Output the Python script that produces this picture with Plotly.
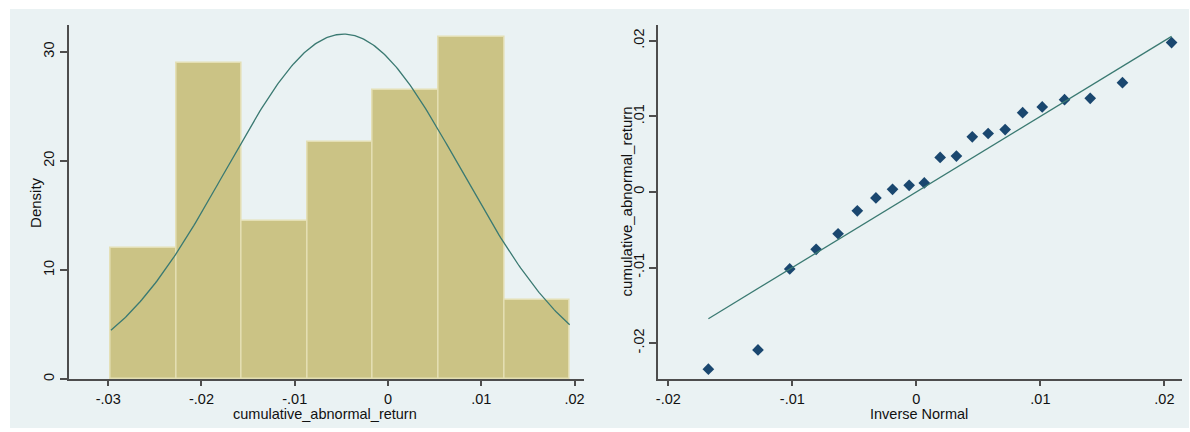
import numpy as np
import plotly.graph_objects as go

# ---------------- data ----------------
# Histogram (density) of cumulative_abnormal_return
bin_start = -0.02971
bin_width = 0.007027
bin_counts = [5, 12, 6, 9, 11, 13, 3]          # observations per bin
n_obs = sum(bin_counts)

# Fitted normal curve parameters
norm_mean = -0.00477
norm_sd = 0.01262

# Q-Q plot: inverse normal (x) vs sorted cumulative_abnormal_return (y)
qq_inv_normal = [-0.01677, -0.01277, -0.01021, -0.00808, -0.00631, -0.00476,
                 -0.00326, -0.00192, -0.00058, 0.00064, 0.00192, 0.00323,
                 0.00451, 0.00579, 0.00716, 0.00857, 0.01015, 0.01195,
                 0.01402, 0.01662, 0.02058]
qq_car = [-0.02345, -0.0209, -0.01019, -0.0076, -0.00553, -0.0025,
          -0.00079, 0.00035, 0.00088, 0.00119, 0.00457, 0.00474,
          0.00729, 0.00773, 0.00825, 0.01049, 0.01124, 0.01221,
          0.01238, 0.01445, 0.01976]

left_xticks = [-0.03, -0.02, -0.01, 0, 0.01, 0.02]
left_xlabels = ["-.03", "-.02", "-.01", "0", ".01", ".02"]
left_yticks = [0, 10, 20, 30]
left_ylabels = ["0", "10", "20", "30"]
right_ticks = [-0.02, -0.01, 0, 0.01, 0.02]
right_labels = ["-.02", "-.01", "0", ".01", ".02"]

# ---------------- derived ----------------
bin_edges = [bin_start + i * bin_width for i in range(len(bin_counts) + 1)]
bin_centers = [(bin_edges[i] + bin_edges[i + 1]) / 2 for i in range(len(bin_counts))]
densities = [c / (n_obs * bin_width) for c in bin_counts]

curve_x = np.linspace(bin_edges[0], bin_edges[-1], 300)
curve_y = np.exp(-0.5 * ((curve_x - norm_mean) / norm_sd) ** 2) / (norm_sd * np.sqrt(2 * np.pi))

line_x = [min(qq_inv_normal), max(qq_inv_normal)]
line_y = line_x

# ---------------- style ----------------
W, H = 1190, 432
BG = "#EAF2F3"
BAR = "#CBC385"
BAR_EDGE = "#E4DFB4"
CURVE = "#3B7A72"
NAVY = "#1A476F"
AXIS = "#4d4d4d"
FONT = dict(family="Liberation Sans, Arial, sans-serif", size=15, color="#111111")
TICKFONT = dict(family="Liberation Sans, Arial, sans-serif", size=14.5, color="#111111")
XTITLEFONT = dict(family="Liberation Sans, Arial, sans-serif", size=14.5, color="#111111")

fig = go.Figure()

fig.add_trace(go.Bar(
    x=bin_centers, y=densities, width=bin_width,
    marker=dict(color=BAR, line=dict(color=BAR_EDGE, width=1.5)),
    xaxis="x", yaxis="y", showlegend=False, hoverinfo="skip"))
fig.add_trace(go.Scatter(
    x=curve_x, y=curve_y, mode="lines", line=dict(color=CURVE, width=1.3),
    xaxis="x", yaxis="y", showlegend=False, hoverinfo="skip"))

fig.add_trace(go.Scatter(
    x=qq_inv_normal, y=qq_car, mode="markers",
    marker=dict(symbol="diamond", size=9, color=NAVY),
    xaxis="x2", yaxis="y2", showlegend=False))
fig.add_trace(go.Scatter(
    x=line_x, y=line_y, mode="lines", line=dict(color=CURVE, width=1.3),
    xaxis="x2", yaxis="y2", showlegend=False, hoverinfo="skip"))

ydom = [1 - 381 / H, 1 - 25 / H]
common_axis = dict(showline=True, linecolor=AXIS, linewidth=2, ticks="outside",
                   tickcolor=AXIS, tickwidth=1.5, zeroline=False,
                   tickfont=TICKFONT)

def ann(text, x, y, angle=0, font=FONT):
    return dict(text=text, x=x / W, y=1 - y / H, xref="paper", yref="paper",
                xanchor="center", yanchor="middle", showarrow=False,
                textangle=angle, font=font, borderpad=0)

fig.update_layout(
    width=W, height=H,
    margin=dict(l=0, r=0, t=0, b=0),
    paper_bgcolor="white", plot_bgcolor="white",
    font=FONT,
    bargap=0,
    xaxis=dict(domain=[65.8 / W, 582.8 / W], range=[-0.03425, 0.0210],
               tickvals=left_xticks, ticktext=left_xlabels, showgrid=False,
               ticklen=5, anchor="y", **common_axis),
    yaxis=dict(domain=ydom, range=[0, 32.46], tickvals=left_yticks,
               ticktext=left_ylabels, tickangle=-90, showgrid=True,
               gridcolor=BG, gridwidth=1.5, ticklen=7,
               anchor="x", **common_axis),
    xaxis2=dict(domain=[657.6 / W, 1182.6 / W], range=[-0.0208, 0.02139],
                tickvals=right_ticks, ticktext=right_labels, showgrid=False,
                ticklen=5, anchor="y2", **common_axis),
    yaxis2=dict(domain=ydom, range=[-0.02478, 0.0221], tickvals=right_ticks,
                ticktext=right_labels, tickangle=-90, showgrid=False,
                ticklen=7, anchor="x2", **common_axis),
    annotations=[
        ann("cumulative_abnormal_return", 323.5, 415.5, font=XTITLEFONT),
        ann("Density", 32, 203, -90),
        ann("Inverse Normal", 919, 415.5, font=XTITLEFONT),
        ann("cumulative_abnormal_return", 626, 202.5, -90),
    ],
    shapes=[dict(type="rect", xref="paper", yref="paper",
                 x0=7 / W, x1=1.0, y0=1 - 430 / H, y1=1 - 9 / H,
                 fillcolor=BG, line=dict(width=0), layer="below")],
)

fig.write_html(
    "out.html",
    config={"displayModeBar": False},
    post_script="document.body.style.margin='0';document.body.style.padding='0';",
)
